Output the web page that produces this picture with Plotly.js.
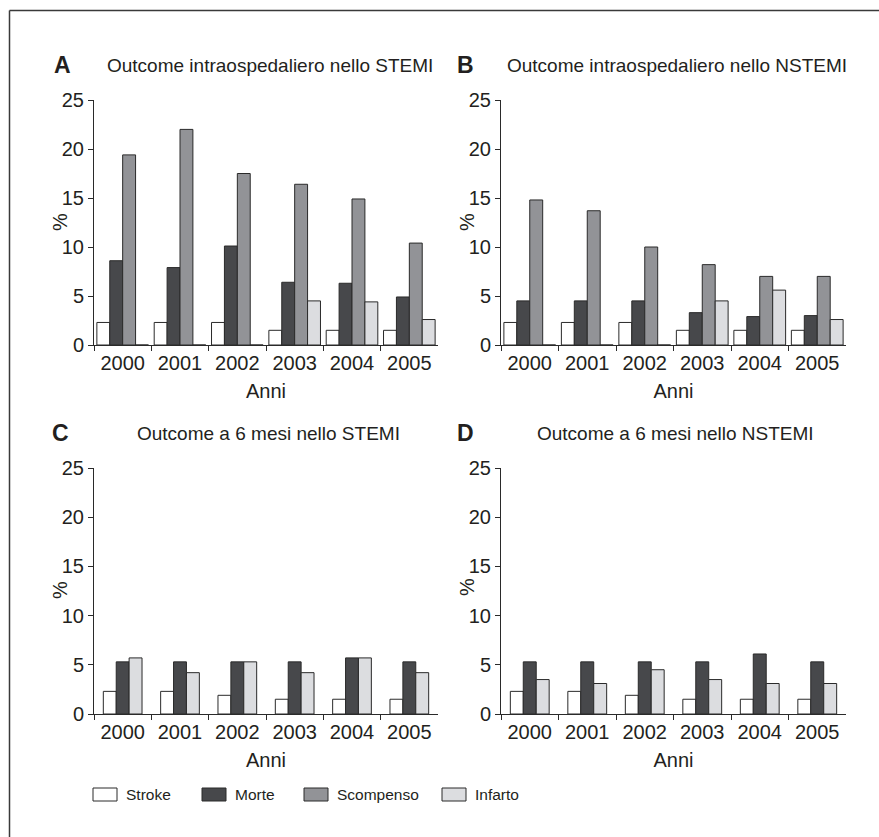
<!DOCTYPE html>
<html>
<head>
<meta charset="utf-8">
<script src="https://cdn.plot.ly/plotly-3.0.1.min.js"></script>
<style>
  html, body { margin: 0; padding: 0; background: #fff; }
  #chart { width: 879px; height: 837px; }
</style>
</head>
<body>
<div id="chart"></div>
<script>
// ---- Data ----
const years = ['2000', '2001', '2002', '2003', '2004', '2005'];
const seriesNames = ['Stroke', 'Morte', 'Scompenso', 'Infarto'];

const stemiHospStroke     = [2.3, 2.3, 2.3, 1.5, 1.5, 1.5];
const stemiHospMorte      = [8.6, 7.9, 10.1, 6.4, 6.3, 4.9];
const stemiHospScompenso  = [19.4, 22.0, 17.5, 16.4, 14.9, 10.4];
const stemiHospInfarto    = [0, 0, 0, 4.5, 4.4, 2.6];

const nstemiHospStroke    = [2.3, 2.3, 2.3, 1.5, 1.5, 1.5];
const nstemiHospMorte     = [4.5, 4.5, 4.5, 3.3, 2.9, 3.0];
const nstemiHospScompenso = [14.8, 13.7, 10.0, 8.2, 7.0, 7.0];
const nstemiHospInfarto   = [0, 0, 0, 4.5, 5.6, 2.6];

const stemi6mStroke       = [2.3, 2.3, 1.9, 1.5, 1.5, 1.5];
const stemi6mMorte        = [5.3, 5.3, 5.3, 5.3, 5.7, 5.3];
const stemi6mInfarto      = [5.7, 4.2, 5.3, 4.2, 5.7, 4.2];

const nstemi6mStroke      = [2.3, 2.3, 1.9, 1.5, 1.5, 1.5];
const nstemi6mMorte       = [5.3, 5.3, 5.3, 5.3, 6.1, 5.3];
const nstemi6mInfarto     = [3.5, 3.1, 4.5, 3.5, 3.1, 3.1];

const panelLetters = ['A', 'B', 'C', 'D'];
const panelTitles = [
  'Outcome intraospedaliero nello STEMI',
  'Outcome intraospedaliero nello NSTEMI',
  'Outcome a 6 mesi nello STEMI',
  'Outcome a 6 mesi nello NSTEMI'
];
const yTitle = '%';
const xTitle = 'Anni';

// ---- Styles ----
const W = 879, H = 837;
const px = x => x / W;
const py = y => 1 - y / H;
const FONT = '"Liberation Sans", Arial, "Helvetica Neue", sans-serif';
const FS = 20;
const TXT = '#231f20';
const colors = { Stroke: '#ffffff', Morte: '#47484b', Scompenso: '#929397', Infarto: '#dcdde0' };
const outline = '#2a2a2a';
const BW = 0.225; // bar width in category units

function bar(name, y, xa, ya, opts) {
  return Object.assign({
    type: 'bar', name: name, x: years, y: y,
    xaxis: xa, yaxis: ya, showlegend: false,
    marker: { color: colors[name], line: { color: outline, width: 1 } },
    hoverinfo: 'x+y+name'
  }, opts || {});
}

const traces = [
  bar('Stroke', stemiHospStroke, 'x', 'y'),
  bar('Morte', stemiHospMorte, 'x', 'y'),
  bar('Scompenso', stemiHospScompenso, 'x', 'y'),
  bar('Infarto', stemiHospInfarto, 'x', 'y'),

  bar('Stroke', nstemiHospStroke, 'x2', 'y2'),
  bar('Morte', nstemiHospMorte, 'x2', 'y2'),
  bar('Scompenso', nstemiHospScompenso, 'x2', 'y2'),
  bar('Infarto', nstemiHospInfarto, 'x2', 'y2'),

  bar('Stroke', stemi6mStroke, 'x3', 'y3', { width: BW, offset: -1.5 * BW }),
  bar('Morte', stemi6mMorte, 'x3', 'y3', { width: BW, offset: -0.5 * BW }),
  bar('Infarto', stemi6mInfarto, 'x3', 'y3', { width: BW, offset: 0.5 * BW }),

  bar('Stroke', nstemi6mStroke, 'x4', 'y4', { width: BW, offset: -1.5 * BW }),
  bar('Morte', nstemi6mMorte, 'x4', 'y4', { width: BW, offset: -0.5 * BW }),
  bar('Infarto', nstemi6mInfarto, 'x4', 'y4', { width: BW, offset: 0.5 * BW })
];

function xaxis(x0, x1, anchor) {
  return {
    domain: [px(x0), px(x1)], anchor: anchor, type: 'category',
    range: [-0.5, 5.5], tickson: 'boundaries', tickangle: 0,
    showgrid: false, zeroline: false, showline: true,
    linecolor: outline, linewidth: 1,
    ticks: 'outside', ticklen: 5, tickwidth: 1, tickcolor: outline,
    tickfont: { family: FONT, size: FS, color: TXT },
    title: { text: xTitle, font: { family: FONT, size: FS, color: TXT }, standoff: 10 },
    fixedrange: true
  };
}
function yaxis(yBottom, yTop, anchor) {
  return {
    domain: [py(yBottom), py(yTop)], anchor: anchor,
    range: [0, 25], tick0: 0, dtick: 5,
    showgrid: false, zeroline: false, showline: true,
    linecolor: outline, linewidth: 1,
    ticks: 'outside', ticklen: 5, tickwidth: 1, tickcolor: outline,
    tickfont: { family: FONT, size: FS, color: TXT },
    fixedrange: true
  };
}

// Panel positions (pixels)
const leftX = [94, 438], rightX = [501, 846];
const topY = [345, 100], botY = [714, 468];

const annotations = [];
const titlePos = [
  { lx: 62, tx: 270, y: 65, pctx: 60, pcty: 222 },
  { lx: 465, tx: 677, y: 65, pctx: 467, pcty: 222 },
  { lx: 60, tx: 268, y: 433, pctx: 60, pcty: 590 },
  { lx: 465, tx: 675, y: 433, pctx: 467, pcty: 587 }
];
titlePos.forEach((p, i) => {
  annotations.push({
    xref: 'paper', yref: 'paper', x: px(p.lx), y: py(p.y),
    xanchor: 'center', yanchor: 'middle', showarrow: false,
    text: '<b>' + panelLetters[i] + '</b>',
    font: { family: FONT, size: 23, color: TXT }
  });
  annotations.push({
    xref: 'paper', yref: 'paper', x: px(p.tx), y: py(p.y),
    xanchor: 'center', yanchor: 'middle', showarrow: false,
    text: panelTitles[i],
    font: { family: FONT, size: 19, color: TXT }
  });
  // y-axis title
  annotations.push({
    xref: 'paper', yref: 'paper', x: px(p.pctx), y: py(p.pcty),
    xanchor: 'center', yanchor: 'middle', showarrow: false, textangle: -90,
    text: yTitle,
    font: { family: FONT, size: FS, color: TXT }
  });
});

// Legend (boxes + labels)
const shapes = [];
const legendBoxX = [93, 202, 304, 442];
seriesNames.forEach((name, i) => {
  const bx = legendBoxX[i];
  shapes.push({
    type: 'rect', xref: 'paper', yref: 'paper',
    x0: px(bx), x1: px(bx + 24), y0: py(801), y1: py(788),
    fillcolor: colors[name], line: { color: outline, width: 1 }
  });
  annotations.push({
    xref: 'paper', yref: 'paper', x: px(bx + 31), y: py(794.5),
    xanchor: 'left', yanchor: 'middle', showarrow: false,
    text: name, font: { family: FONT, size: 15.5, color: TXT }
  });
});

// Frame (top and left edges)
shapes.push({ type: 'line', xref: 'paper', yref: 'paper', x0: px(9.5), x1: px(W + 5), y0: py(10.5), y1: py(10.5), line: { color: '#3a3a3a', width: 1.5 } });
shapes.push({ type: 'line', xref: 'paper', yref: 'paper', x0: px(9.5), x1: px(9.5), y0: py(10.5), y1: py(H + 5), line: { color: '#3a3a3a', width: 1.5 } });

const layout = {
  width: W, height: H,
  margin: { l: 0, r: 0, t: 0, b: 0 },
  paper_bgcolor: '#fff', plot_bgcolor: 'rgba(0,0,0,0)',
  barmode: 'group', bargap: 0.1, bargroupgap: 0,
  showlegend: false,
  font: { family: FONT, color: TXT },
  xaxis: xaxis(leftX[0], leftX[1], 'y'),
  yaxis: yaxis(topY[0], topY[1], 'x'),
  xaxis2: xaxis(rightX[0], rightX[1], 'y2'),
  yaxis2: yaxis(topY[0], topY[1], 'x2'),
  xaxis3: xaxis(leftX[0], leftX[1], 'y3'),
  yaxis3: yaxis(botY[0], botY[1], 'x3'),
  xaxis4: xaxis(rightX[0], rightX[1], 'y4'),
  yaxis4: yaxis(botY[0], botY[1], 'x4'),
  annotations: annotations,
  shapes: shapes
};

Plotly.newPlot('chart', traces, layout, { displayModeBar: false });
</script>
</body>
</html>
